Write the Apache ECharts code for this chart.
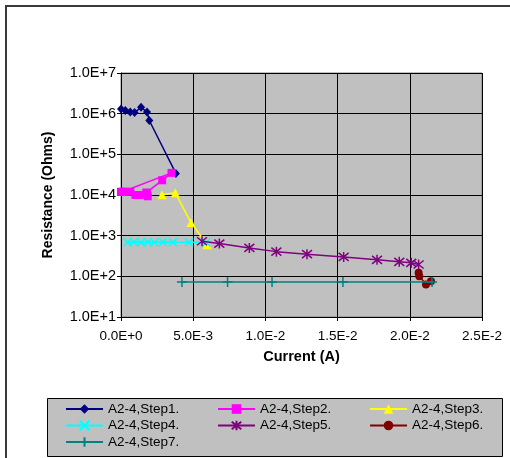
<!DOCTYPE html>
<html><head><meta charset="utf-8">
<script src="https://cdn.jsdelivr.net/npm/echarts@6/dist/echarts.min.js"></script>
<style>html,body{margin:0;padding:0;background:#fff;}#c{width:510px;height:458px;}</style>
</head><body><div id="c"></div>
<script>
// ---- data ----
const seriesNames = ['A2-4,Step1.', 'A2-4,Step2.', 'A2-4,Step3.', 'A2-4,Step4.', 'A2-4,Step5.', 'A2-4,Step6.', 'A2-4,Step7.'];
const xTicks = [0, 0.005, 0.01, 0.015, 0.02, 0.025];
const yTicks = [1e1, 1e2, 1e3, 1e4, 1e5, 1e6, 1e7];

const step1Current = [0, 0.30e-3, 0.64e-3, 0.94e-3, 1.39e-3, 1.80e-3, 1.96e-3, 3.80e-3];
const step1Res     = [1.3e6, 1.19e6, 1.1e6, 1.07e6, 1.43e6, 1.1e6, 6.8e5, 3.4e4];

const step2Current = [0, 0.30e-3, 0.65e-3, 1.00e-3, 1.25e-3, 1.80e-3, 1.85e-3, 1.75e-3, 2.85e-3, 3.50e-3, 0.10e-3];
const step2Res     = [1.2e4, 1.2e4, 1.2e4, 1.0e4, 1.0e4, 1.05e4, 9.3e3, 1.15e4, 2.3e4, 3.5e4, 1.2e4];

const step3Current = [2.84e-3, 3.76e-3, 4.85e-3, 5.96e-3];
const step3Res     = [1.02e4, 1.13e4, 2.1e3, 6.0e2];

const step4Current = [0.45e-3, 0.90e-3, 1.40e-3, 1.85e-3, 2.30e-3, 2.90e-3, 3.60e-3, 4.70e-3, 5.90e-3];
const step4Res     = [690, 700, 690, 700, 690, 700, 690, 690, 690];

const step5Current = [5.61e-3, 6.81e-3, 8.89e-3, 10.76e-3, 12.88e-3, 15.42e-3, 17.73e-3, 19.27e-3, 20.10e-3, 20.61e-3];
const step5Res     = [730, 640, 500, 405, 350, 300, 255, 227, 215, 195];

const step6Current = [20.61e-3, 20.66e-3, 21.12e-3, 21.47e-3];
const step6Res     = [122, 101, 63, 76];

const step7Current = [4.22e-3, 7.38e-3, 10.46e-3, 15.37e-3, 21.54e-3];
const step7Res     = [73, 73, 73, 73, 73];

// ---- styling ----
const FONT = 'Arial, "Liberation Sans", sans-serif';
const colors = ['#000080', '#FF00FF', '#FFFF00', '#00FFFF', '#800080', '#800000', '#008080'];
const symbols = ['diamond', 'rect', 'triangle',
  'path://M0,0L10,10M10,0L0,10',
  'path://M1,1L9,9M9,1L1,9M5,0L5,10',
  'circle',
  'path://M5,0L5,10M0,5L10,5'];
const symbolSizes = [[8, 9], 8, 9, 8, 10, 8, 10];
const strokeSym = [false, false, false, true, true, false, true];

const currents = [step1Current, step2Current, step3Current, step4Current, step5Current, step6Current, step7Current];
const resistances = [step1Res, step2Res, step3Res, step4Res, step5Res, step6Res, step7Res];

function pairs(xs, ys) { return xs.map((x, i) => [x, ys[i]]); }
function sci(v) { return Number(v).toExponential(1).toUpperCase(); }

const series = seriesNames.map((name, i) => ({
  name: name,
  type: 'line',
  data: pairs(currents[i], resistances[i]),
  symbol: symbols[i],
  symbolSize: symbolSizes[i],
  showAllSymbol: true,
  lineStyle: { color: colors[i], width: 1.5 },
  itemStyle: strokeSym[i]
    ? { color: colors[i], borderColor: colors[i], borderWidth: 1.5 }
    : { color: colors[i], borderWidth: 0 },
  emphasis: { disabled: true },
  z: 2 + i
}));

const legendCols = [65, 217, 369];
const legendRows = [402, 418.5, 435];
const legends = seriesNames.map((name, i) => ({
  data: [name],
  left: legendCols[i % 3],
  top: legendRows[Math.floor(i / 3)],
  padding: 0,
  itemWidth: 37,
  itemHeight: 12,
  selectedMode: false,
  textStyle: { fontFamily: FONT, fontSize: 13.5, color: '#000' }
}));

const option = {
  animation: false,
  backgroundColor: '#ffffff',
  graphic: [
    { type: 'rect', shape: { x: 6, y: 6, width: 600, height: 600 }, style: { fill: 'none', stroke: '#3a3a3a', lineWidth: 2 }, z: 0 },
    { type: 'rect', shape: { x: 47.5, y: 398.5, width: 455, height: 58 }, style: { fill: '#C0C0C0', stroke: '#000', lineWidth: 1 }, z: 0 }
  ],
  grid: {
    left: 121, top: 73, width: 361, height: 244,
    show: true, backgroundColor: '#C0C0C0', borderColor: '#808080', borderWidth: 1
  },
  legend: legends,
  xAxis: {
    type: 'value', min: xTicks[0], max: xTicks[xTicks.length - 1], interval: xTicks[1] - xTicks[0],
    name: 'Current (A)', nameLocation: 'middle', nameGap: 32,
    nameTextStyle: { fontFamily: FONT, fontSize: 14.5, fontWeight: 'bold', color: '#000' },
    axisLine: { lineStyle: { color: '#000', width: 1 } },
    axisTick: { show: true, inside: false, length: 4, lineStyle: { color: '#000' } },
    axisLabel: { fontFamily: FONT, fontSize: 13.5, color: '#000', margin: 12, formatter: sci },
    splitLine: { show: true, lineStyle: { color: '#000', width: 1 } }
  },
  yAxis: {
    type: 'log', logBase: 10, min: yTicks[0], max: yTicks[yTicks.length - 1], splitNumber: 6,
    name: 'Resistance (Ohms)', nameLocation: 'middle', nameGap: 66, nameRotate: 90,
    nameTextStyle: { fontFamily: FONT, fontSize: 14, fontWeight: 'bold', color: '#000' },
    axisLine: { show: true, lineStyle: { color: '#000', width: 1 } },
    axisTick: { show: true, inside: false, length: 4, lineStyle: { color: '#000' } },
    minorTick: { show: false },
    axisLabel: { fontFamily: FONT, fontSize: 14.5, color: '#000', margin: 5, formatter: sci },
    splitLine: { show: true, lineStyle: { color: '#000', width: 1 } }
  },
  series: series
};

const chart = echarts.init(document.getElementById('c'), null, { renderer: 'canvas' });
chart.setOption(option);
</script></body></html>
